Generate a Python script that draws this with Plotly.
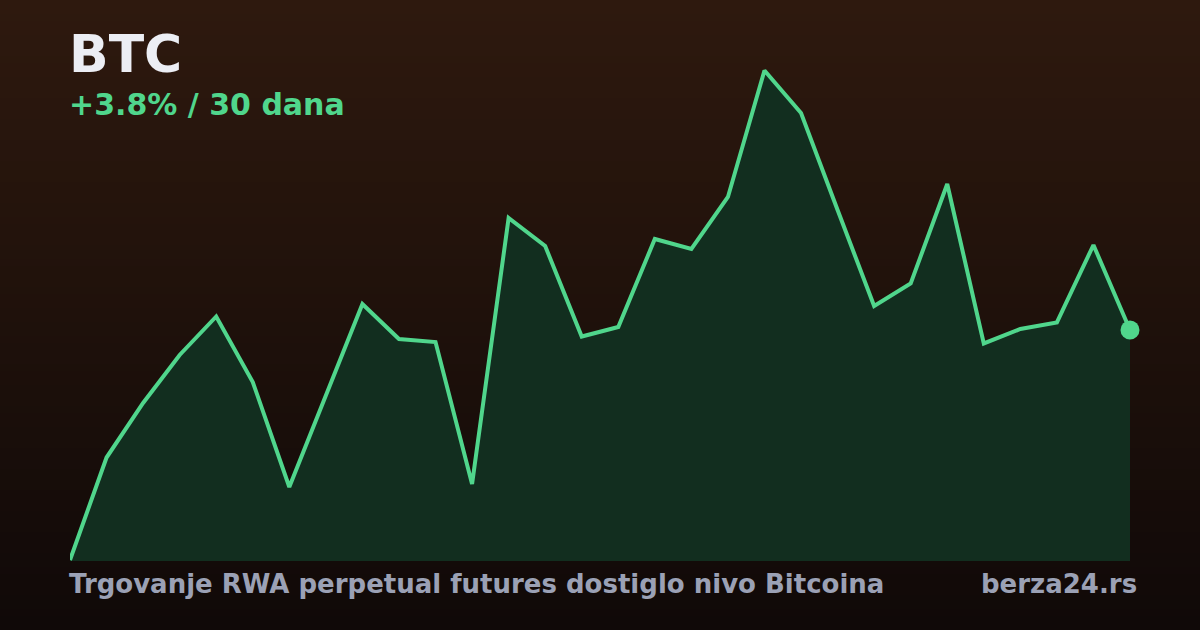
import plotly.graph_objects as go

# ---- data ----
days = list(range(1, 31))
prices = [100000, 101693, 102594, 103387, 104023, 102941, 101206, 102726, 104229, 103651,
          103601, 101256, 105650, 105187, 103692, 103849, 105303, 105138, 105997, 108087,
          107384, 105782, 104196, 104568, 106212, 103577, 103816, 103924, 105204, 103800]
symbol = "BTC"
change_label = "+3.8% / 30 dana"
headline = "Trgovanje RWA perpetual futures dostiglo nivo Bitcoina"
source = "berza24.rs"

W, H = 1200, 630
ML, MR, MT, MB = 70, 70, 60, 69
PW, PH = W - ML - MR, H - MT - MB

LINE = "#50d68c"
FILL = "#122e1f"

def px_to_paper_y(py):
    return (H - MB - py) / PH

def px_to_paper_x(px):
    return (px - ML) / PW

fig = go.Figure()
fig.add_trace(go.Scatter(
    x=days, y=prices, mode="lines",
    line=dict(color=LINE, width=4),
    fill="tozeroy", fillcolor=FILL,
    hoverinfo="skip", showlegend=False,
))
fig.add_trace(go.Scatter(
    x=[days[-1]], y=[prices[-1]], mode="markers",
    marker=dict(color=LINE, size=19),
    cliponaxis=False, hoverinfo="skip", showlegend=False,
))

# background vertical gradient
top = (46, 25, 14)
bot = (16, 9, 8)
n = 90
shapes = []
for i in range(n):
    t = i / (n - 1)
    c = tuple(round(top[k] + (bot[k] - top[k]) * t) for k in range(3))
    y0 = H * i / n
    y1 = H * (i + 1) / n + 1
    shapes.append(dict(
        type="rect", xref="paper", yref="paper", layer="below",
        x0=px_to_paper_x(-5), x1=px_to_paper_x(W + 5),
        y0=px_to_paper_y(y1), y1=px_to_paper_y(y0),
        line=dict(width=0), fillcolor="rgb(%d,%d,%d)" % c,
    ))

font = "DejaVu Sans"
def ann(text, px, py, size, color, anchor="left"):
    return dict(text="<b>%s</b>" % text, xref="paper", yref="paper",
                x=px_to_paper_x(px), y=px_to_paper_y(py),
                xanchor=anchor, yanchor="middle", showarrow=False,
                borderpad=0, font=dict(family=font, size=size, color=color))

annotations = [
    ann(symbol, 68, 54, 52, "#eceef4"),
    ann(change_label, 68, 104, 30, LINE),
    ann(headline, 68, 584, 26, "#9ba1b5"),
    ann(source, 1138, 584, 26, "#9ba1b5", anchor="right"),
]

fig.update_layout(
    width=W, height=H,
    margin=dict(l=ML, r=MR, t=MT, b=MB, pad=0),
    paper_bgcolor="#1f130c", plot_bgcolor="rgba(0,0,0,0)",
    xaxis=dict(range=[days[0], days[-1]], visible=False, fixedrange=True),
    yaxis=dict(range=[100000 - 16.52, 100000 - 16.52 + PH * 16.52], visible=False, fixedrange=True),
    shapes=shapes, annotations=annotations,
)

fig.write_html("out.html", config={"displayModeBar": False},
               post_script="document.body.style.margin='0';document.body.style.background='#100908';")
